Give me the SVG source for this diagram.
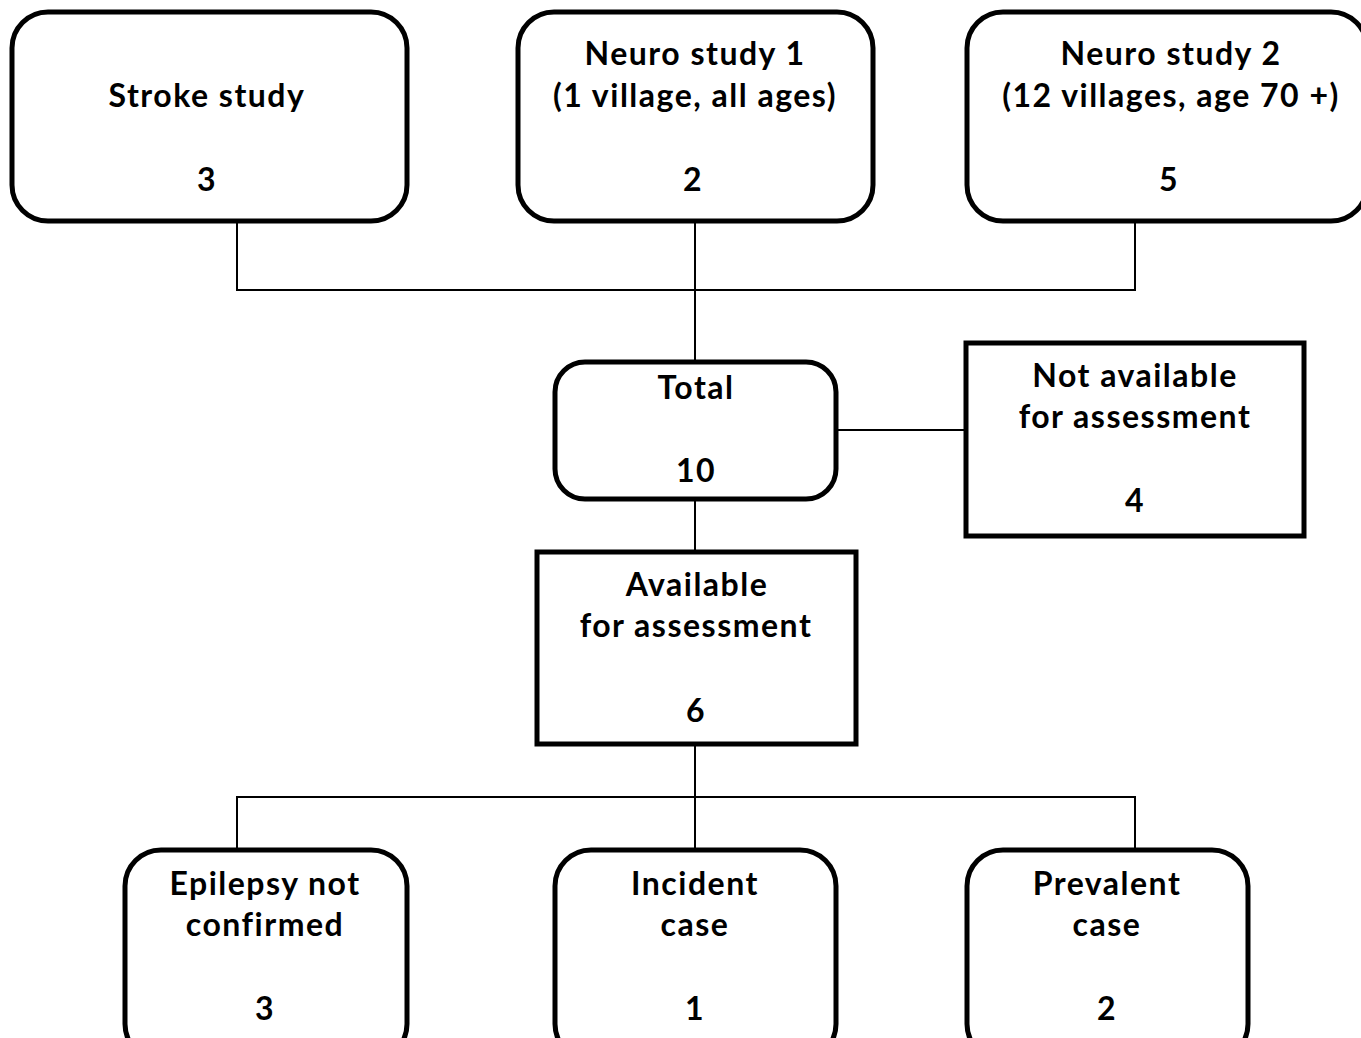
<svg xmlns="http://www.w3.org/2000/svg" width="1361" height="1038" viewBox="0 0 1361 1038">
<style>
.rb{fill:#fff;stroke:#000;stroke-width:5}
.sb{fill:#fff;stroke:#000;stroke-width:5}
.c{fill:none;stroke:#000;stroke-width:2}
text{font-family:Lato,"Open Sans",sans-serif;font-weight:bold;font-size:32px;letter-spacing:1.5px;fill:#000;text-anchor:middle}
</style>
<rect width="1361" height="1038" fill="#fff"/>
<g id="connectors">
<path class="c" d="M237 221V290H1135V221M695 221V362M836 430H966M695 499V552M695 744V850M237 850V797H1135V850"/>
</g>
<g id="stroke-study">
<rect class="rb" x="12" y="12" width="395" height="209" rx="36"/>
<text x="207" y="107">Stroke study</text>
<text x="207" y="191">3</text>
</g>
<g id="neuro-study-1">
<rect class="rb" x="518" y="12" width="355" height="209" rx="36"/>
<text x="695" y="65">Neuro study 1</text>
<text x="695" y="107">(1 village, all ages)</text>
<text x="693" y="191">2</text>
</g>
<g id="neuro-study-2">
<rect class="rb" x="967" y="12" width="400" height="209" rx="36"/>
<text x="1171" y="65">Neuro study 2</text>
<text x="1171" y="107">(12 villages, age 70 +)</text>
<text x="1169" y="191">5</text>
</g>
<g id="total">
<rect class="rb" x="555" y="362" width="281" height="137" rx="30"/>
<text x="696" y="399">Total</text>
<text x="696" y="482">10</text>
</g>
<g id="not-available">
<rect class="sb" x="966" y="343" width="338" height="193"/>
<text x="1135" y="387">Not available</text>
<text x="1135" y="428">for assessment</text>
<text x="1135" y="512">4</text>
</g>
<g id="available">
<rect class="sb" x="537" y="552" width="319" height="192"/>
<text x="697" y="596">Available</text>
<text x="696" y="637">for assessment</text>
<text x="696" y="722">6</text>
</g>
<g id="epilepsy-not-confirmed">
<rect class="rb" x="125" y="850" width="282" height="210" rx="36"/>
<text x="265" y="895">Epilepsy not</text>
<text x="265" y="936">confirmed</text>
<text x="265" y="1020">3</text>
</g>
<g id="incident-case">
<rect class="rb" x="555" y="850" width="281" height="210" rx="36"/>
<text x="695" y="895">Incident</text>
<text x="695" y="936">case</text>
<text x="695" y="1020">1</text>
</g>
<g id="prevalent-case">
<rect class="rb" x="967" y="850" width="281" height="210" rx="36"/>
<text x="1107" y="895">Prevalent</text>
<text x="1107" y="936">case</text>
<text x="1107" y="1020">2</text>
</g>
</svg>
